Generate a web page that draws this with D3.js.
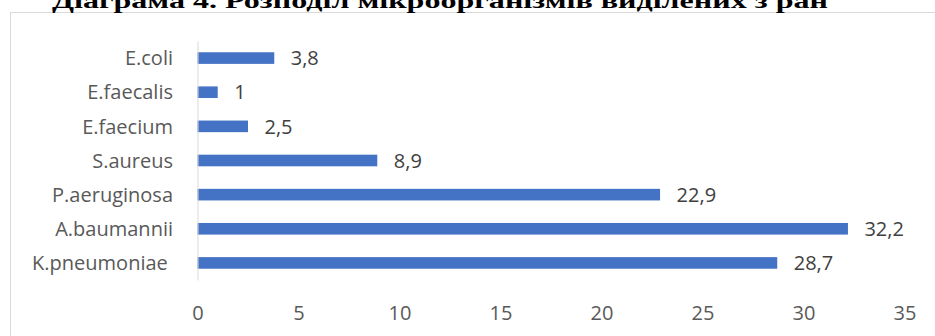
<!DOCTYPE html>
<html>
<head>
<meta charset="utf-8">
<script src="https://cdn.jsdelivr.net/npm/d3@7/dist/d3.min.js"></script>
<style>
  html, body { margin: 0; padding: 0; background: #fff; }
  svg { display: block; }
  text { white-space: pre; }
</style>
</head>
<body>
<svg id="chart" width="935" height="336"></svg>
<script>
// Microorganisms isolated from wounds, % of isolates
const titleText = "Діаграма 4. Розподіл мікроорганізмів виділених з ран";
const categories = ["E.coli", "E.faecalis", "E.faecium", "S.aureus", "P.aeruginosa", "A.baumannii", "K.pneumoniae "];
const values = [3.8, 1, 2.5, 8.9, 22.9, 32.2, 28.7];
const xTicks = [0, 5, 10, 15, 20, 25, 30, 35];

const svg = d3.select("#chart");

// chart area frame
svg.append("rect")
  .attr("x", 10.5).attr("y", 12.5)
  .attr("width", 1000).attr("height", 400)
  .attr("fill", "#fff")
  .attr("stroke", "#d9d9d9")
  .attr("stroke-width", 1);

// title
svg.append("text")
  .attr("x", 52).attr("y", 7.5)
  .attr("textLength", 776)
  .attr("lengthAdjust", "spacingAndGlyphs")
  .attr("font-family", "'Liberation Serif', 'Times New Roman', serif")
  .attr("font-weight", "bold")
  .attr("font-size", 21)
  .attr("fill", "#000")
  .text(titleText);

const x = d3.scaleLinear().domain([0, 35]).range([197.5, 904.5]);
const y = d3.scaleBand().domain(categories).range([41, 280])
  .paddingInner(0.66).paddingOuter(0.33);

const font = "'Open Sans', sans-serif";

// bars
svg.append("g").selectAll("rect")
  .data(categories)
  .join("rect")
  .attr("x", x(0))
  .attr("y", d => y(d))
  .attr("width", (d, i) => x(values[i]) - x(0))
  .attr("height", y.bandwidth())
  .attr("fill", "#4472C4");

// value labels
svg.append("g").selectAll("text")
  .data(categories)
  .join("text")
  .attr("x", (d, i) => x(values[i]) + 16.5)
  .attr("y", d => y(d) + y.bandwidth() / 2)
  .attr("dy", "0.36em")
  .attr("font-family", font)
  .attr("font-size", 20)
  .attr("fill", "#404040")
  .text((d, i) => String(values[i]).replace(".", ","));

// category axis
const yAxis = svg.append("g")
  .attr("transform", `translate(${x(0)},0)`)
  .call(d3.axisLeft(y).tickSize(0).tickSizeOuter(0).tickPadding(24.5));
yAxis.select(".domain").attr("stroke", "#d9d9d9").attr("stroke-width", 1);
yAxis.selectAll("text")
  .attr("font-family", font)
  .attr("font-size", 20)
  .attr("fill", "#595959")
  .attr("dy", "0.36em");

// value axis
const xAxis = svg.append("g")
  .attr("transform", "translate(0,306)")
  .call(d3.axisBottom(x).tickValues(xTicks).tickSize(0).tickPadding(0).tickFormat(d3.format("d")));
xAxis.select(".domain").remove();
xAxis.selectAll("text")
  .attr("font-family", font)
  .attr("font-size", 20)
  .attr("fill", "#595959")
  .attr("y", 14)
  .attr("dy", 0);
</script>
</body>
</html>
